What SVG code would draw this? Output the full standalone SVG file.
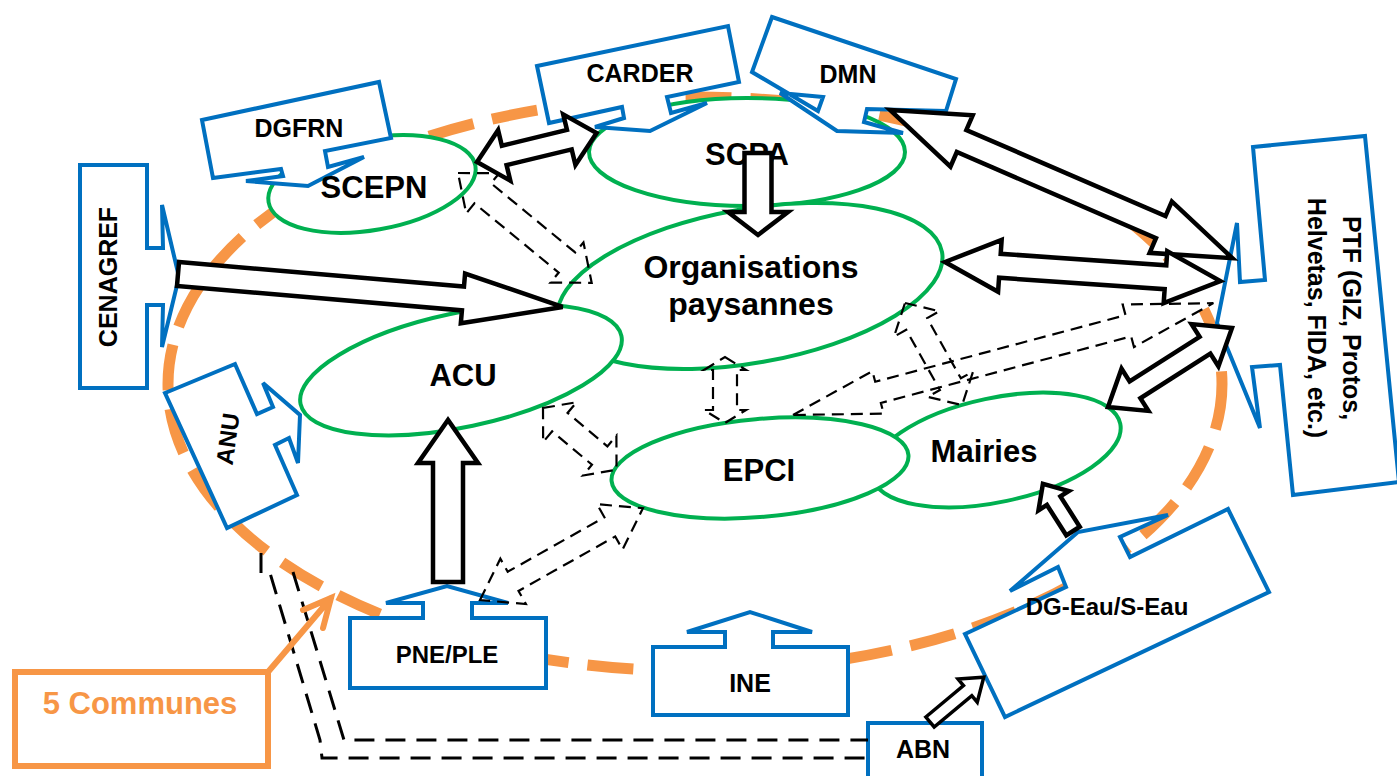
<svg xmlns="http://www.w3.org/2000/svg" width="1397" height="776" viewBox="0 0 1397 776">
<style>
.g{fill:#fff;stroke:#00B050;stroke-width:4}
.b{fill:#fff;stroke:#0070C0;stroke-width:4;stroke-linejoin:miter}
.t{font-family:"Liberation Sans",Arial,sans-serif;font-weight:bold;fill:#000;text-anchor:middle}
.k{fill:#fff;stroke:#000;stroke-width:4.5;stroke-linejoin:miter}
.d{fill:none;stroke:#000;stroke-width:2.2;stroke-dasharray:12 7}
.o{fill:none;stroke:#F79646}
</style>
<rect width="1397" height="776" fill="#fff"/>
<g id="communes-boundary">
<ellipse cx="695" cy="384" rx="527" ry="287" class="o" stroke-width="11" stroke-dasharray="46 19"/>
</g>
<g id="SCPA"><ellipse cx="747" cy="152" rx="158" ry="54" class="g"/><text x="747" y="165" class="t" font-size="31">SCPA</text></g>
<g id="OP"><ellipse cx="750" cy="286" rx="195" ry="77" transform="rotate(-10 750 286)" class="g"/><text x="751" y="278" class="t" font-size="32">Organisations</text><text x="751" y="315" class="t" font-size="32">paysannes</text></g>
<g id="ACU"><ellipse cx="461" cy="370" rx="164" ry="57" transform="rotate(-12 461 370)" class="g"/><text x="463" y="386" class="t" font-size="31">ACU</text></g>
<g id="Mairies"><ellipse cx="996" cy="450" rx="127" ry="52" transform="rotate(-12 996 450)" class="g"/><text x="984" y="462" class="t" font-size="31">Mairies</text></g>
<g id="EPCI"><ellipse cx="760" cy="468" rx="149" ry="49" transform="rotate(-5 760 468)" class="g"/><text x="759" y="481" class="t" font-size="31">EPCI</text></g>
<g id="SCEPN"><ellipse cx="372" cy="184" rx="105" ry="46" transform="rotate(-10 372 184)" class="g"/></g>

<g id="DGFRN"><polygon class="b" points="202,120 379,82 391,138 325,151 328,167 364,157 308,186 246,181 283,176 281,169 213,178"/><text x="299" y="137" class="t" font-size="25">DGFRN</text></g>
<g id="SCEPN-label"><text x="374" y="198" class="t" font-size="31">SCEPN</text></g>
<g id="CARDER"><polygon class="b" points="537,66 728,26 739,82 667,97 671,113 707,103 650,131 595,127 624,118 622,107 549,123"/><text x="640" y="82" class="t" font-size="25">CARDER</text></g>
<g id="DMN"><polygon class="b" points="772,17 956,79 946,111 867,109 864,122 903,133 837,131 780,93 823,97 818,111 752,72"/><text x="848" y="83" class="t" font-size="25">DMN</text></g>
<g id="PTF"><polygon class="b" points="1253,147 1365,136 1399,482 1293,495 1280,365 1252,367 1260,428 1217,323 1237,223 1240,282 1265,280"/><text class="t" font-size="25" transform="translate(1343,318) rotate(90)">PTF (GIZ, Protos,</text><text class="t" font-size="25" transform="translate(1308,318) rotate(90)">Helvetas, FIDA, etc.)</text></g>
<g id="CENAGREF"><polygon class="b" points="80,165 147,165 147,248 163,248 162,205 179,277 162,347 163,305 147,305 147,388 80,388"/><text class="t" font-size="25" transform="translate(117,277) rotate(-90)">CENAGREF</text></g>
<g id="ANU"><polygon class="b" points="165,393 235,364 257,414 273,407 263,383 300,415 298,463 289,438 275,445 297,495 227,528"/><text class="t" font-size="24" transform="translate(236,440) rotate(-82)">ANU</text></g>
<g id="PNE-PLE"><polygon class="b" points="350,618 423,618 423,603 386,603 447,586 508,603 472,603 472,618 546,618 546,688 350,688"/><text x="447" y="663" class="t" font-size="24">PNE/PLE</text></g>
<g id="INE"><polygon class="b" points="653,647 725,647 725,632 687,632 750,612 812,632 773,632 773,647 848,647 848,715 653,715"/><text x="750" y="692" class="t" font-size="25">INE</text></g>
<g id="DG-Eau"><polygon class="b" points="965,634 1066,587 1058,567 1010,591 1078,532 1168,515 1120,537 1130,557 1228,509 1269,592 1005,717"/><text x="1107" y="615" class="t" font-size="24">DG-Eau/S-Eau</text></g>
<g id="ABN"><rect class="b" x="868" y="723" width="114" height="70"/><text x="923" y="758" class="t" font-size="25">ABN</text></g>
<g id="communes"><rect x="15" y="672" width="253" height="94" fill="#fff" stroke="#F79646" stroke-width="6"/><text x="140" y="714" class="t" font-size="31" style="fill:#F79646">5 Communes</text></g>

<g id="connectors">
<path class="d" transform="translate(458,173) rotate(39.4)" d="M0,0 L32,-26 L32,-13 L141,-13 L141,-26 L173,0 L141,26 L141,13 L32,13 L32,26 Z"/>
<polygon class="d" points="725,357 746,370 737,370 737,410 746,410 725,423 704,410 713,410 713,370 704,370"/>
<path class="d" transform="translate(543,408) rotate(40)" d="M0,0 L22,-26 L22,-12 L74,-12 L74,-26 L96,0 L74,26 L74,12 L22,12 L22,26 Z"/>
<path class="d" transform="translate(480,600) rotate(-29.4)" d="M0,0 L38,-26 L38,-11 L149,-11 L149,-26 L187,0 L149,26 L149,11 L38,11 L38,26 Z"/>
<path class="d" transform="translate(793,415) rotate(-14.9)" d="M0,0 L88,-22 L88,-11 L347,-11 L347,-22 L435,0 L347,22 L347,11 L88,11 L88,22 Z"/>
<path class="d" transform="translate(905,303) rotate(60.8)" d="M0,0 L24,-26 L24,-12 L93,-12 L93,-26 L117,0 L93,26 L93,12 L24,12 L24,26 Z"/>
<path class="d" style="stroke-width:3;stroke-dasharray:20 11" d="M261,553 L261,573 L270,573 L320,740 L322,758 L868,758 M293,572 L344,740 L868,740"/>

<path class="k" transform="translate(477,162) rotate(-13.6)" d="M0,0 L28,-26 L28,-10 L95,-10 L95,-26 L123,0 L95,26 L95,10 L28,10 L28,26 Z"/>
<polygon class="k" points="744.5,153 771.5,153 771.5,212 788,212 758,235 728,212 744.5,212"/>
<path class="k" transform="translate(890,110) rotate(23.4)" d="M0,0 L78,-28 L78,-12 L295,-12 L295,-28 L373,0 L295,28 L295,12 L78,12 L78,28 Z"/>
<path class="k" transform="translate(945,262) rotate(3.95)" d="M0,0 L55,-26 L55,-12 L221,-12 L221,-26 L276,0 L221,26 L221,12 L55,12 L55,26 Z"/>
<path class="k" transform="translate(1108,407) rotate(-32.5)" d="M0,0 L32,-25 L32,-10 L115,-10 L115,-25 L147,0 L115,25 L115,10 L32,10 L32,25 Z"/>
<path class="k" transform="translate(178,274) rotate(4.9)" d="M0,-12 L286,-12 L286,-25 L386,0 L286,25 L286,12 L0,12 Z"/>
<polygon class="k" points="433,582 463,582 463,463 478,463 448,420 418,463 433,463"/>
<path class="k" transform="translate(1073,531) rotate(-122.5)" d="M0,-8 L36,-8 L36,-18 L56,0 L36,18 L36,8 L0,8 Z"/>
<path class="k" transform="translate(930,722) rotate(-39.8)" style="stroke-width:3.5" d="M0,-6.5 L49,-6.5 L49,-15 L70,0 L49,15 L49,6.5 L0,6.5 Z"/>
<path class="o" stroke-width="6" stroke-linecap="round" d="M268,672 L331,598 M303,610 L331,598 L323,628"/>
</g>
</svg>
